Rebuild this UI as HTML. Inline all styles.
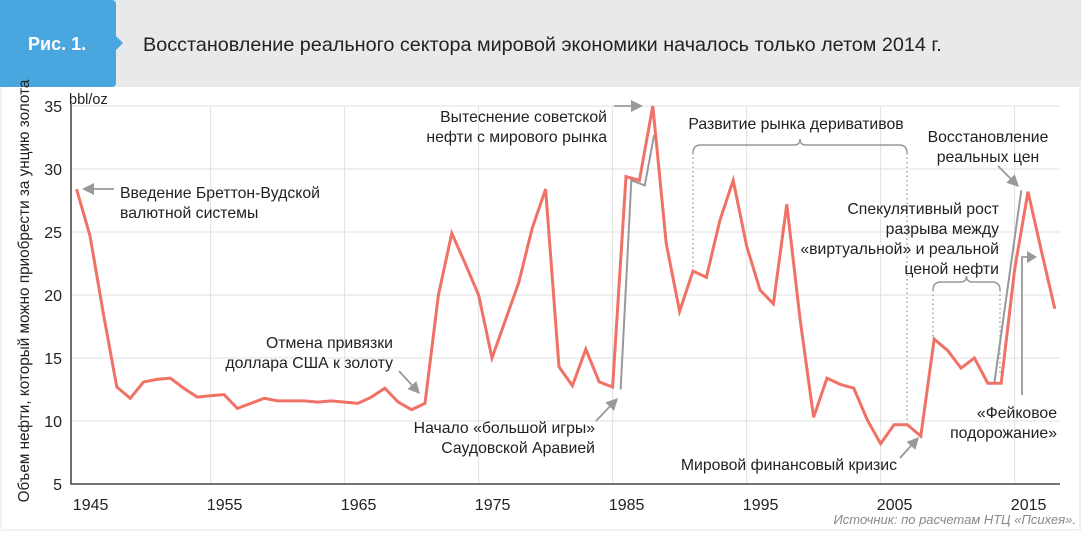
<!DOCTYPE html>
<html><head><meta charset="utf-8">
<style>
body{margin:0;width:1081px;height:531px;background:#fff;overflow:hidden;font-family:"Liberation Sans",sans-serif}
svg text{font-family:"Liberation Sans",sans-serif}
</style></head>
<body>
<svg id="c" width="1081" height="531" viewBox="0 0 1081 531">
<rect x="0" y="0" width="1081" height="531" fill="#f0f1f2"/>
<rect x="2" y="87" width="1077" height="442" fill="#fff"/>
<rect x="0" y="0" width="1081" height="87" fill="#e8e9eb"/>
<path d="M0 0H112a4 4 0 0 1 4 4V36L123 43L116 50V83a4 4 0 0 1 -4 4H0Z" fill="#4aa6de"/>
<text x="28" y="50" font-size="18" font-weight="bold" fill="#fff">Рис. 1.</text>
<text x="143" y="51" font-size="19.8" fill="#222">Восстановление реального сектора мировой экономики началось только летом 2014 г.</text>
<g id="grid"></g>
<g id="ann"></g>
<g id="series"></g>
<text transform="translate(29,291) rotate(-90)" text-anchor="middle" font-size="15.3" fill="#222">Объем нефти, который можно приобрести за унцию золота</text>
<text x="69" y="104" font-size="14.5" fill="#222">bbl/oz</text>
<text x="1076" y="524" text-anchor="end" font-size="13" font-style="italic" fill="#888">Источник: по расчетам НТЦ «Психея».</text>
</svg>
<script>
const years = [];
for (let y = 1945; y <= 2018; y++) years.push(y);
const ratio = [28.4,24.7,18.5,12.7,11.8,13.1,13.3,13.4,12.6,11.9,12.0,12.1,11.0,11.4,11.8,11.6,11.6,11.6,11.5,11.6,11.5,11.4,11.9,12.6,11.5,10.9,11.4,20.0,24.9,22.5,20.0,15.0,18.0,21.0,25.3,28.4,14.3,12.8,15.7,13.1,12.7,29.4,29.1,35.0,24.1,18.7,21.9,21.4,25.9,29.1,23.9,20.4,19.3,27.2,18.0,10.3,13.4,12.9,12.6,10.1,8.2,9.7,9.7,8.8,16.5,15.6,14.2,15.0,13.0,13.0,22.0,28.2,23.5,18.9];
const shadowYears = [1985.6,1986.4,1987.4,1988.1];
const shadowVals = [12.5,29.1,28.7,32.7];
const shadow2Years = [2013.5,2015.5];
const shadow2Vals = [13.1,28.3];
const yTicks = [5,10,15,20,25,30,35];
const xTicks = [1945,1955,1965,1975,1985,1995,2005,2015];

const NS = 'http://www.w3.org/2000/svg';
const X = yr => 76.6 + (yr - 1945) * 13.4;
const Y = v => 484 - (v - 5) * 12.6;
const L = 71, R = 1060;
function mk(tag, attrs, parent, txt){const e=document.createElementNS(NS,tag);for(const k in attrs)e.setAttribute(k,attrs[k]);if(txt!==undefined)e.textContent=txt;parent.appendChild(e);return e;}
const grid = document.getElementById('grid'), ann = document.getElementById('ann'), ser = document.getElementById('series');

yTicks.forEach(v=>{
  if(v>5){const g=mk('line',{x1:L,x2:R,y1:Y(v),y2:Y(v),stroke:'#e2e2e2','stroke-width':1},grid);
  
  }
  const t=mk('text',{x:62,y:Y(v)+6,'text-anchor':'end','font-size':16,fill:'#222'},grid,String(v));
  
  
});
xTicks.forEach(yr=>{
  if(yr>1945){const g=mk('line',{x1:X(yr),x2:X(yr),y1:Y(35),y2:Y(5),stroke:'#e2e2e2','stroke-width':1},grid);
  
  }
  const t=mk('text',{x:X(yr)+14,y:510,'text-anchor':'middle','font-size':16,fill:'#222'},grid,String(yr));
  
  
});
const ax=mk('path',{d:`M${L} ${Y(35)-2}V${Y(5)}H${R}`,fill:'none',stroke:'#222','stroke-width':1.3},grid);



function poly(xs,vs,col,w,name){const p=mk('polyline',{points:xs.map((x,i)=>X(x)+','+Y(vs[i])).join(' '),fill:'none',stroke:col,'stroke-width':w,'stroke-linejoin':'miter'},ser);

}
poly(shadowYears,shadowVals,'#999',2,'shadow-line-1986');
poly(shadow2Years,shadow2Vals,'#999',2,'shadow-line-2014');
poly(years,ratio,'#f07166',3,'oil-gold-ratio-line');

const gray='#999';
function arrow(x1,y1,x2,y2,name){
  const a=Math.atan2(y2-y1,x2-x1),h=12,w=6;
  const bx=x2-h*Math.cos(a),by=y2-h*Math.sin(a);
  const g=mk('g',{},ann);
  
  
  mk('line',{x1,y1,x2:bx,y2:by,stroke:gray,'stroke-width':1.8},g);
  mk('polygon',{points:`${x2},${y2} ${bx-w*Math.sin(a)},${by+w*Math.cos(a)} ${bx+w*Math.sin(a)},${by-w*Math.cos(a)}`,fill:gray},g);
}
function label(lines,x,y,anchor,name){const t=mk('text',{x,y,'text-anchor':anchor,'font-size':15.8,fill:'#222'},ann);
  
  
  lines.forEach((s,i)=>mk('tspan',{x,dy:i?20:0},t,s));}
function dotted(x,y1,y2){mk('line',{x1:x,x2:x,y1,y2,stroke:'#999','stroke-width':1.3,'stroke-dasharray':'1.5,3'},ann);}
function brace(x1,x2,y,name){const m=(x1+x2)/2;const p=mk('path',{d:`M${x1} ${y+8}q0 -8 8 -8H${m-6}q6 0 6 -6q0 6 6 6H${x2-8}q8 0 8 8`,fill:'none',stroke:'#999','stroke-width':1.5},ann);
  
  }

arrow(114,189,82,189,'arrow-bretton-woods');
label(['Введение Бреттон-Вудской','валютной системы'],120,198,'start','label-bretton-woods');
label(['Отмена привязки','доллара США к золоту'],393,348,'end','label-gold-standard-end');
arrow(399,371,420,394,'arrow-gold-standard-end');
label(['Вытеснение советской','нефти с мирового рынка'],607,122,'end','label-soviet-oil');
arrow(614,106,643,106,'arrow-soviet-oil');
label(['Начало «большой игры»','Саудовской Аравией'],595,433,'end','label-saudi-game');
arrow(596,421,618,398,'arrow-saudi-game');
label(['Развитие рынка деривативов'],796,129,'middle','label-derivatives');
brace(693,907,145,'brace-derivatives');
dotted(693,153,270); dotted(907,153,425);
label(['Восстановление','реальных цен'],988,142,'middle','label-real-prices');
arrow(998,166,1019,187,'arrow-real-prices');
label(['Спекулятивный рост','разрыва между','«виртуальной» и реальной','ценой нефти'],999,214,'end','label-speculative-growth');
brace(933,1000,282,'brace-speculation');
dotted(933,290,340); dotted(1000,290,375);
label(['«Фейковое','подорожание»'],1057,418,'end','label-fake-rise');
{const g=mk('polyline',{points:'1022,395 1022,257 1030,257',fill:'none',stroke:gray,'stroke-width':1.8},ann);
 
 
 mk('polygon',{points:'1037,257 1027,251 1027,263',fill:gray},ann);}
label(['Мировой финансовый кризис'],897,470,'end','label-financial-crisis');
arrow(900,458,919,437,'arrow-financial-crisis');
</script>
</body></html>
